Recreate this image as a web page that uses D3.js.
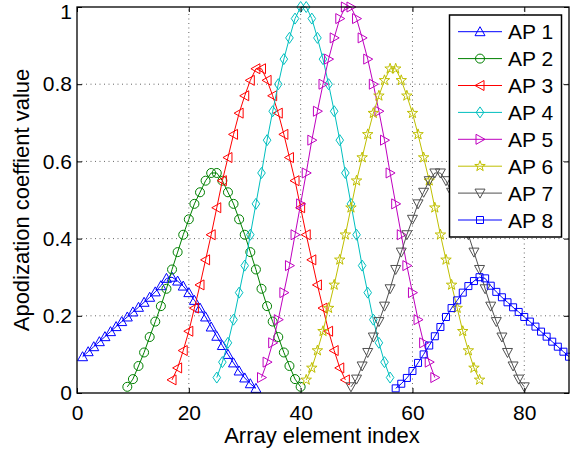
<!DOCTYPE html>
<html>
<head>
<meta charset="utf-8">
<script src="https://cdn.jsdelivr.net/npm/d3@7"></script>
<style>
  body { margin: 0; background: #fff; }
  svg { display: block; font-family: "Liberation Sans", Arial, Helvetica, sans-serif; }
</style>
</head>
<body>
<div id="chart"></div>
<script>
// Apodization windows, one per sub-aperture (32 elements each)

const seriesNames = ["AP 1", "AP 2", "AP 3", "AP 4", "AP 5", "AP 6", "AP 7", "AP 8"];
// first array element of each sub-aperture
const startIndex = [1, 9, 17, 25, 33, 41, 49, 57];

const ap1 = [0.094, 0.107, 0.12, 0.133, 0.146, 0.159, 0.172, 0.185, 0.197, 0.21, 0.222, 0.235, 0.248, 0.262, 0.278, 0.297,
             0.30, 0.29, 0.277, 0.26, 0.24, 0.22, 0.197, 0.171, 0.147, 0.123, 0.10, 0.078, 0.057, 0.039, 0.024, 0.012];
const ap2 = [0.016, 0.036, 0.07, 0.105, 0.145, 0.185, 0.225, 0.27, 0.32, 0.365, 0.41, 0.45, 0.49, 0.52, 0.55, 0.57,
             0.57, 0.55, 0.52, 0.49, 0.45, 0.41, 0.365, 0.32, 0.27, 0.225, 0.185, 0.145, 0.105, 0.07, 0.036, 0.016];
const ap3 = [0.034, 0.065, 0.11, 0.16, 0.22, 0.28, 0.345, 0.41, 0.48, 0.55, 0.61, 0.67, 0.725, 0.77, 0.81, 0.84,
             0.84, 0.81, 0.77, 0.725, 0.67, 0.61, 0.55, 0.48, 0.41, 0.345, 0.28, 0.22, 0.16, 0.11, 0.065, 0.034];
const ap4 = [0.04, 0.08, 0.13, 0.19, 0.26, 0.33, 0.41, 0.49, 0.57, 0.655, 0.73, 0.80, 0.865, 0.92, 0.97, 1.0,
             1.0, 0.97, 0.92, 0.865, 0.80, 0.73, 0.655, 0.57, 0.49, 0.41, 0.33, 0.26, 0.19, 0.13, 0.08, 0.04];
const ap5 = [0.04, 0.08, 0.13, 0.19, 0.26, 0.33, 0.41, 0.49, 0.57, 0.655, 0.73, 0.80, 0.865, 0.92, 0.97, 1.0,
             1.0, 0.97, 0.92, 0.865, 0.80, 0.73, 0.655, 0.57, 0.49, 0.41, 0.33, 0.26, 0.19, 0.13, 0.08, 0.04];
const ap6 = [0.034, 0.065, 0.11, 0.16, 0.22, 0.28, 0.345, 0.41, 0.48, 0.55, 0.61, 0.67, 0.725, 0.77, 0.81, 0.84,
             0.84, 0.81, 0.77, 0.725, 0.67, 0.61, 0.55, 0.48, 0.41, 0.345, 0.28, 0.22, 0.16, 0.11, 0.065, 0.034];
const ap7 = [0.016, 0.036, 0.07, 0.105, 0.145, 0.185, 0.225, 0.27, 0.32, 0.365, 0.41, 0.45, 0.49, 0.52, 0.55, 0.57,
             0.57, 0.55, 0.52, 0.49, 0.45, 0.41, 0.365, 0.32, 0.27, 0.225, 0.185, 0.145, 0.105, 0.07, 0.036, 0.016];
const ap8 = [0.012, 0.024, 0.039, 0.057, 0.078, 0.10, 0.123, 0.147, 0.171, 0.197, 0.22, 0.24, 0.26, 0.277, 0.29, 0.30,
             0.297, 0.278, 0.262, 0.248, 0.235, 0.222, 0.21, 0.197, 0.185, 0.172, 0.159, 0.146, 0.133, 0.12, 0.107, 0.094];

const xTicks = [0, 20, 40, 60, 80];
const yTicks = [0, 0.2, 0.4, 0.6, 0.8, 1];

// styles
const colors = ["#0000ff", "#008000", "#ff0000", "#00bfbf", "#bf00bf", "#bfbf00", "#505050", "#0000ff"];
const markers = ["triUp", "circle", "triLeft", "diamond", "triRight", "star", "triDown", "square"];

const width = 570;
const height = 453;
const margin = {left: 77, right: 1, top: 7, bottom: 60};

const svg = d3.select("#chart")
  .append("svg")
  .attr("width", width)
  .attr("height", height);

const x = d3.scaleLinear().domain([0, 88]).range([margin.left, width - margin.right]);
const y = d3.scaleLinear().domain([0, 1]).range([height - margin.bottom, margin.top]);

// marker shape -> path string centred on 0,0
function markerPath(kind) {
  const poly = pts => "M" + pts.map(p => p.join(",")).join("L") + "Z";
  switch (kind) {
    case "triUp":    return poly([[0, -5], [5, 4], [-5, 4]]);
    case "triDown":  return poly([[0, 5], [5, -4], [-5, -4]]);
    case "triLeft":  return poly([[-5, 0], [4, -5], [4, 5]]);
    case "triRight": return poly([[5, 0], [-4, -5], [-4, 5]]);
    case "diamond":  return poly([[0, -5.5], [3.8, 0], [0, 5.5], [-3.8, 0]]);
    case "square":   return poly([[-3.5, -3.5], [3.5, -3.5], [3.5, 3.5], [-3.5, 3.5]]);
    case "circle":   return "M4.5,0A4.5,4.5 0 1,1 -4.5,0A4.5,4.5 0 1,1 4.5,0Z";
    case "star": {
      const pts = [];
      for (let k = 0; k < 10; k++) {
        const r = k % 2 === 0 ? 5.5 : 2.2;
        const a = -Math.PI / 2 + k * Math.PI / 5;
        pts.push([(r * Math.cos(a)).toFixed(2), (r * Math.sin(a)).toFixed(2)]);
      }
      return poly(pts);
    }
  }
}

const plotW = width - margin.left - margin.right;
const plotH = height - margin.top - margin.bottom;

// grid (dotted)
const grid = svg.append("g").attr("stroke", "#666").attr("stroke-width", 1).attr("stroke-dasharray", "1,3.5");
grid.selectAll(".gx").data(xTicks.filter(d => d > 0)).enter().append("line")
  .attr("x1", d => x(d)).attr("x2", d => x(d))
  .attr("y1", y(0)).attr("y2", y(1));
grid.selectAll(".gy").data(yTicks.filter(d => d > 0 && d < 1)).enter().append("line")
  .attr("x1", x(0)).attr("x2", x(88))
  .attr("y1", d => y(d)).attr("y2", d => y(d));

// series
const allSeries = [ap1, ap2, ap3, ap4, ap5, ap6, ap7, ap8];
const line = d3.line().x(d => x(d.i)).y(d => y(d.v));

allSeries.forEach((vals, s) => {
  const pts = vals.map((v, k) => ({i: startIndex[s] + k, v: v}));
  const g = svg.append("g");
  g.append("path")
    .datum(pts)
    .attr("d", line)
    .attr("fill", "none")
    .attr("stroke", colors[s])
    .attr("stroke-width", 1);
  g.selectAll("path.m")
    .data(pts)
    .enter()
    .append("path")
      .attr("class", "m")
      .attr("d", markerPath(markers[s]))
      .attr("transform", d => `translate(${x(d.i)},${y(d.v)})`)
      .attr("fill", "none")
      .attr("stroke", colors[s])
      .attr("stroke-width", 1);
});

// axes
const fmt = d => String(+d.toFixed(1));

svg.append("g")
  .attr("transform", `translate(0,${y(0)})`)
  .call(d3.axisBottom(x).tickValues(xTicks).tickSizeInner(-5).tickSizeOuter(0).tickPadding(12))
  .attr("font-size", "21px");

const yAxisG = svg.append("g")
  .attr("transform", `translate(${x(0)},0)`)
  .call(d3.axisLeft(y).tickValues(yTicks).tickFormat(fmt).tickSizeInner(-5).tickSizeOuter(0).tickPadding(5))
  .attr("font-size", "21px");
// keep the top label inside the window
yAxisG.selectAll(".tick text").filter(d => d === 1).attr("dy", "0.56em");

svg.append("g")
  .attr("transform", `translate(0,${y(1)})`)
  .call(d3.axisTop(x).tickValues(xTicks).tickSizeInner(-5).tickSizeOuter(0).tickFormat(""));

svg.append("g")
  .attr("transform", `translate(${x(88)},0)`)
  .call(d3.axisRight(y).tickValues(yTicks).tickSizeInner(-5).tickSizeOuter(0).tickFormat(""));

svg.selectAll(".domain").attr("stroke", "none");
svg.selectAll(".tick line").attr("stroke", "#000");
svg.selectAll(".tick text").attr("fill", "#000");

// box
svg.append("rect")
  .attr("x", x(0)).attr("y", y(1))
  .attr("width", plotW).attr("height", plotH)
  .attr("fill", "none")
  .attr("stroke", "#000")
  .attr("stroke-width", 1.3);

// axis labels
svg.append("text")
  .attr("x", (x(0) + x(88)) / 2 - 1)
  .attr("y", 443)
  .attr("text-anchor", "middle")
  .attr("font-size", "22px")
  .text("Array element index");

svg.append("text")
  .attr("transform", `translate(29,${(y(0) + y(1)) / 2}) rotate(-90)`)
  .attr("text-anchor", "middle")
  .attr("font-size", "22px")
  .text("Apodization coeffient value");

// legend
const legend = svg.append("g");
legend.append("rect")
  .attr("x", 449.5).attr("y", 15)
  .attr("width", 112).attr("height", 222)
  .attr("fill", "#fff")
  .attr("stroke", "#000")
  .attr("stroke-width", 1.5);

seriesNames.forEach((name, s) => {
  const ly = 31.7 + s * 26.9;
  legend.append("line")
    .attr("x1", 458).attr("x2", 502)
    .attr("y1", ly).attr("y2", ly)
    .attr("stroke", colors[s]).attr("stroke-width", 1);
  legend.append("path")
    .attr("d", markerPath(markers[s]))
    .attr("transform", `translate(480,${ly})`)
    .attr("fill", "none")
    .attr("stroke", colors[s]);
  legend.append("text")
    .attr("x", 508)
    .attr("y", ly)
    .attr("dy", "0.36em")
    .attr("font-size", "21px")
    .text(name);
});
</script>
</body>
</html>
